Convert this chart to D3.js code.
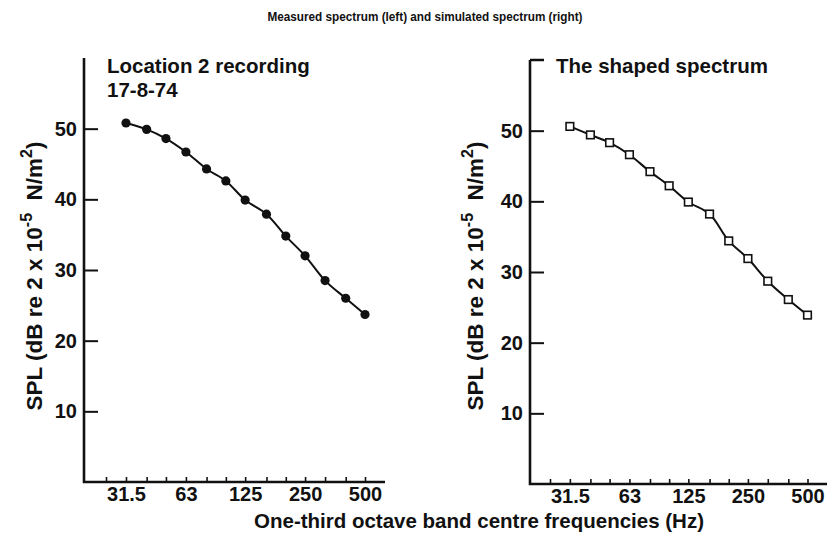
<!DOCTYPE html>
<html><head><meta charset="utf-8">
<script src="https://cdn.jsdelivr.net/npm/d3@7"></script>
<style>
html,body{margin:0;padding:0;background:#fff;}
text{font-family:"Liberation Sans",Arial,sans-serif;font-weight:bold;fill:#111;}
</style></head>
<body>
<svg id="chart" width="827" height="533"></svg>
<script>
// ---- data ----
const bands = [25, 31.5, 40, 50, 63, 80, 100, 125, 160, 200, 250, 315, 400, 500];
const labelledBands = [31.5, 63, 125, 250, 500];
const freqs = [31.5, 40, 50, 63, 80, 100, 125, 160, 200, 250, 315, 400, 500];
const measured = [50.8, 49.9, 48.6, 46.7, 44.3, 42.6, 39.9, 37.9, 34.8, 32.0, 28.5, 26.0, 23.7];
const simulated = [50.6, 49.4, 48.3, 46.6, 44.2, 42.2, 39.9, 38.2, 34.4, 31.9, 28.7, 26.1, 23.9];
const yTicks = [10, 20, 30, 40, 50];
const yDomain = [0, 60];
const title = "Measured spectrum (left) and simulated spectrum (right)";
const xTitle = "One-third octave band centre frequencies (Hz)";

const svg = d3.select("#chart");
svg.append("rect").attr("width",827).attr("height",533).attr("fill","#fff");

svg.append("text").attr("x",425).attr("y",21).attr("text-anchor","middle")
  .attr("font-size",12).attr("textLength",315).attr("lengthAdjust","spacingAndGlyphs")
  .text(title);

const panels = [
  {axisX:84, x0:106, x1:365, xEnd:385, yBottom:482, yTop:58, topTick:false,
   data:measured, marker:"circle", labelX:42, texts:[["Location 2 recording",107,73],["17-8-74",107,97]]},
  {axisX:530, x0:550, x1:807.5, xEnd:827, yBottom:484, yTop:60, topTick:true,
   data:simulated, marker:"square", labelX:483, texts:[["The shaped spectrum",556,73]]}
];

panels.forEach(p => {
  const x = d3.scaleLog().domain([bands[0], bands[bands.length-1]]).range([p.x0, p.x1]);
  const y = d3.scaleLinear().domain(yDomain).range([p.yBottom, p.yTop]);
  const g = svg.append("g");

  // y axis
  const ya = g.append("g").attr("transform",`translate(${p.axisX},0)`)
    .call(d3.axisLeft(y).tickValues(yTicks).tickSize(-14).tickPadding(7));
  ya.select(".domain").remove();
  ya.selectAll(".tick line").attr("stroke","#111").attr("stroke-width",2);
  ya.selectAll(".tick text").attr("font-size",20).attr("font-family",null).attr("fill","#111");

  // x axis
  const xa = g.append("g").attr("transform",`translate(0,${p.yBottom})`)
    .call(d3.axisBottom(x).tickValues(bands).tickSize(-5).tickPadding(5)
      .tickFormat(d => labelledBands.includes(d) ? String(d) : ""));
  xa.select(".domain").remove();
  xa.selectAll(".tick line").attr("stroke","#111").attr("stroke-width",1.6);
  xa.selectAll(".tick text").attr("font-size",20).attr("font-family",null).attr("fill","#111");

  // axis lines
  g.append("path")
    .attr("d",`M${p.axisX},${p.yTop}V${p.yBottom}H${p.xEnd}` + (p.topTick ? `M${p.axisX},${p.yTop}H${p.axisX+14}` : ""))
    .attr("fill","none").attr("stroke","#111").attr("stroke-width",2.6);

  // curve
  const pts = freqs.map((f,i) => [x(f), y(p.data[i])]);
  g.append("path").attr("d", d3.line().curve(d3.curveCatmullRom.alpha(0.5))(pts))
    .attr("fill","none").attr("stroke","#111").attr("stroke-width",2);

  if (p.marker === "circle") {
    g.selectAll("circle.m").data(pts).join("circle")
      .attr("cx",d=>d[0]).attr("cy",d=>d[1]).attr("r",4.6).attr("fill","#111");
  } else {
    g.selectAll("rect.m").data(pts).join("rect")
      .attr("x",d=>d[0]-3.8).attr("y",d=>d[1]-3.8).attr("width",7.6).attr("height",7.6)
      .attr("fill","#fff").attr("stroke","#111").attr("stroke-width",1.6);
  }

  // panel texts
  p.texts.forEach(t => g.append("text").attr("x",t[1]).attr("y",t[2]).attr("font-size",20.5).text(t[0]));

  // y label
  const yl = g.append("text").attr("transform",`translate(${p.labelX},276) rotate(-90)`)
    .attr("text-anchor","middle").attr("font-size",22.5);
  yl.append("tspan").text("SPL (dB re 2 x 10");
  yl.append("tspan").attr("dy",-10).attr("font-size",16).text("-5");
  yl.append("tspan").attr("dy",10).text("\u00a0 N/m");
  yl.append("tspan").attr("dy",-10).attr("font-size",16).text("2");
  yl.append("tspan").attr("dy",10).text(")");
});

svg.append("text").attr("x",479).attr("y",528).attr("text-anchor","middle")
  .attr("font-size",20.5).text(xTitle);
</script>
</body></html>
